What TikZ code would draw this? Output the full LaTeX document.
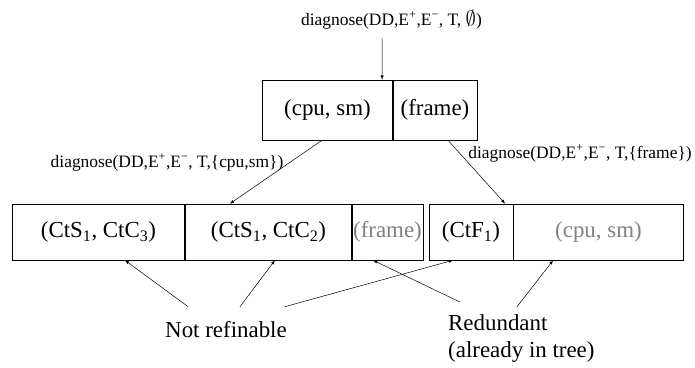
\documentclass[tikz,border=0pt]{standalone}
\usepackage{fontspec}
\setmainfont{Liberation Serif}
\usetikzlibrary{arrows}
\definecolor{faded}{gray}{0.5}
\tikzset{
	cell/.style={draw, line width=0.7pt, minimum height=#1, inner sep=0pt, font=\fontsize{23}{26}\selectfont},
	call/.style={anchor=base, inner sep=0pt, font=\fontsize{17.5}{20}\selectfont},
	note/.style={inner sep=0pt, font=\fontsize{23}{28}\selectfont},
}

\begin{document}
\begin{tikzpicture}[x=1bp, y=1bp, >=latex]
	\useasboundingbox (0,0) rectangle (695,367);
	% root of the tree
	\node[call] (rootcall) at (391.5,342) {diagnose(DD,E\textsuperscript{+},E\textsuperscript{−}, T, \scalebox{1.2}{$\emptyset$})};
	\node[cell=60, minimum width=131] (cpusm) at (327.5,257) {(cpu, sm)};
	\node[cell=60, minimum width=84] (frame) at (435,257) {(frame)};
	% children
	\node[cell=56, minimum width=173] (c1) at (98.5,135) {(CtS\textsubscript{1}, CtC\textsubscript{3})};
	\node[cell=56, minimum width=167] (c2) at (268.5,135) {(CtS\textsubscript{1}, CtC\textsubscript{2})};
	\node[cell=56, minimum width=71, text=faded] (c3) at (387.5,135) {(frame)};
	\node[cell=56, minimum width=84] (d1) at (471,135) {(CtF\textsubscript{1})};
	\node[cell=56, minimum width=171, text=faded] (d2) at (598.5,135) {(cpu, sm)};
	\node[call] (leftcall) at (167,200) {diagnose(DD,E\textsuperscript{+},E\textsuperscript{−}, T,\{cpu,sm\})};
	\node[call] (rightcall) at (580,209) {diagnose(DD,E\textsuperscript{+},E\textsuperscript{−}, T,\{frame\})};
	% remarks
	\node[note, anchor=base] (notref) at (226,30) {Not refinable};
	\node[note, anchor=north west, align=left] (redund) at (448,53) {Redundant\\(already in tree)};
	\path[->, line width=0.5pt]
	([xshift=-9.5,yshift=-9.5]rootcall.south) edge ([xshift=-11]cpusm.north east)
	([xshift=-5.5]cpusm.south) edge ([xshift=45]c2.north west)
	([xshift=13]frame.south) edge ([xshift=-8]d1.north east)
	([xshift=-38,yshift=14]notref.north) edge ([xshift=26.5]c1.south)
	([xshift=14,yshift=14]notref.north) edge ([xshift=6.5]c2.south)
	([xshift=59,yshift=14]notref.north) edge ([xshift=-18]d1.south)
	([xshift=12,yshift=12]redund.north west) edge ([xshift=-14.5]c3.south)
	([xshift=69,yshift=7]redund.north west) edge ([xshift=-45.5]d2.south);
\end{tikzpicture}
\end{document}
